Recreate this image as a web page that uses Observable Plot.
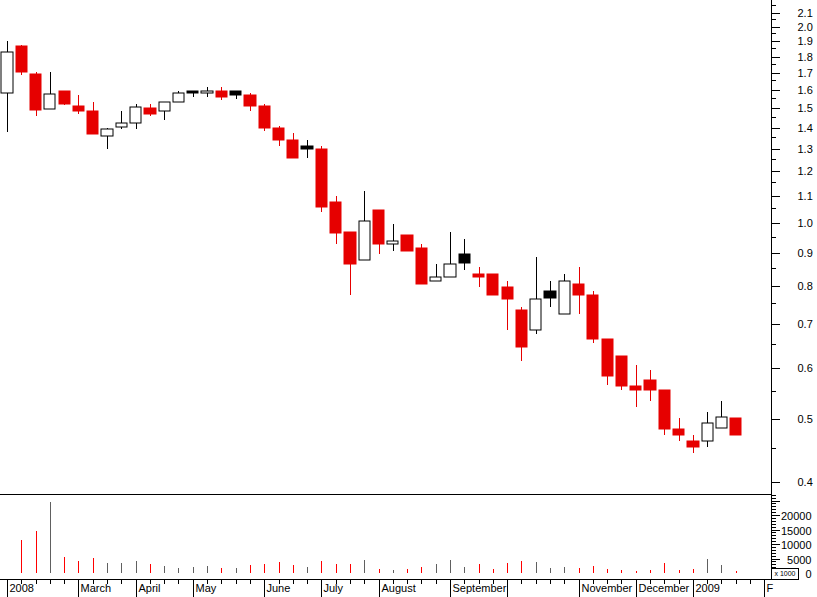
<!DOCTYPE html>
<html>
<head>
<meta charset="utf-8">
<script src="https://cdn.jsdelivr.net/npm/d3@7"></script>
<script src="https://cdn.jsdelivr.net/npm/@observablehq/plot@0.6"></script>
<style>
  html, body { margin: 0; padding: 0; background: #fff; }
  #chart { position: relative; width: 817px; height: 597px; overflow: hidden;
           font-family: "Liberation Sans", Arial, sans-serif; }
  #chart svg { position: absolute; left: 0; }
  #unit { position: absolute; left: 771px; top: 568px; width: 26px; height: 10px;
          border: 1px solid #000; font-size: 7px; line-height: 10px; text-align: center;
          color: #000; background: #fff; white-space: nowrap; }
</style>
</head>
<body>
<div id="chart"></div>
<script>
// ---- data (weekly bars, week ending Friday) ----
const weeks = [
  "2008-02-01","2008-02-08","2008-02-15","2008-02-22","2008-02-29",
  "2008-03-07","2008-03-14","2008-03-21","2008-03-28",
  "2008-04-04","2008-04-11","2008-04-18","2008-04-25",
  "2008-05-02","2008-05-09","2008-05-16","2008-05-23","2008-05-30",
  "2008-06-06","2008-06-13","2008-06-20","2008-06-27",
  "2008-07-04","2008-07-11","2008-07-18","2008-07-25",
  "2008-08-01","2008-08-08","2008-08-15","2008-08-22","2008-08-29",
  "2008-09-05","2008-09-12","2008-09-19","2008-09-26",
  "2008-10-03","2008-10-10","2008-10-17","2008-10-24","2008-10-31",
  "2008-11-07","2008-11-14","2008-11-21","2008-11-28",
  "2008-12-05","2008-12-12","2008-12-19","2008-12-26",
  "2009-01-02","2009-01-09","2009-01-16","2009-01-23"
];
const open = [
  1.577,1.862,1.687,1.489,1.588,
  1.506,1.480,1.353,1.397,
  1.417,1.496,1.478,1.528,
  1.588,1.576,1.588,1.588,1.566,
  1.506,1.394,1.336,1.308,
  1.294,1.073,0.965,0.873,
  1.043,0.924,0.955,0.912,0.811,
  0.823,0.893,0.832,0.832,
  0.795,0.733,0.682,0.784,0.722,
  0.803,0.773,0.661,0.623,
  0.560,0.572,0.552,0.482,
  0.461,0.462,0.483,0.500
];
const high = [
  1.895,1.868,1.697,1.697,1.588,
  1.566,1.528,1.392,1.480,
  1.517,1.517,1.528,1.588,
  1.588,1.611,1.611,1.588,1.577,
  1.517,1.404,1.371,1.336,
  1.308,1.096,0.965,1.116,
  1.043,0.993,0.955,0.925,0.862,
  0.965,0.942,0.853,0.832,
  0.812,0.740,0.884,0.812,0.832,
  0.853,0.784,0.661,0.623,
  0.604,0.593,0.552,0.500,
  0.471,0.511,0.532,0.500
];
const low = [
  1.376,1.682,1.456,1.489,1.513,
  1.466,1.366,1.296,1.387,
  1.387,1.456,1.435,1.528,
  1.557,1.557,1.540,1.546,1.481,
  1.380,1.308,1.254,1.254,
  1.037,0.925,0.773,0.873,
  0.894,0.904,0.904,0.804,0.811,
  0.823,0.845,0.796,0.774,
  0.684,0.613,0.674,0.742,0.722,
  0.723,0.653,0.562,0.552,
  0.521,0.532,0.471,0.461,
  0.443,0.452,0.483,0.472
];
const close = [
  1.821,1.699,1.486,1.570,1.518,
  1.481,1.366,1.387,1.417,
  1.499,1.466,1.528,1.577,
  1.579,1.586,1.557,1.568,1.506,
  1.395,1.336,1.254,1.296,
  1.056,0.963,0.863,1.002,
  0.926,0.934,0.904,0.804,0.823,
  0.863,0.864,0.824,0.774,
  0.763,0.644,0.763,0.764,0.812,
  0.774,0.662,0.581,0.560,
  0.553,0.552,0.482,0.471,
  0.452,0.491,0.502,0.472
];
// volume in thousands
const volume = [
  null,11450,14500,24500,5670,
  4300,5330,3290,3290,
  4300,2950,2270,1590,
  1930,2270,1590,1590,2610,
  2950,3630,2610,1930,
  3970,2950,2950,4650,
  1250,910,1250,1930,2950,
  4650,1930,2950,1250,
  3290,3970,3630,1590,1930,
  1590,2270,1250,910,
  570,910,3290,910,
  1250,5000,2610,570
];

// ---- axis tick values / labels ----
const extraWeeks = ["2009-01-30","2009-02-06"];
const monthTicks = ["2008-02-01","2008-03-07","2008-04-04","2008-05-02","2008-06-06","2008-07-04",
  "2008-08-01","2008-09-05","2008-10-03","2008-11-07","2008-12-05","2009-01-02","2009-02-06"];
const monthLabels = ["2008","March","April","May","June","July","August","September","",
  "November","December","2009","F"];
const priceTicks = [0.4,0.5,0.6,0.7,0.8,0.9,1.0,1.1,1.2,1.3,1.4,1.5,1.6,1.7,1.8,1.9,2.0,2.1];
const priceMinorTicks = [0.45,0.55,0.65,0.75,0.85,0.95,1.05,1.15,1.25,1.35,1.45,1.55,1.65,1.75,1.85,1.95,2.05,2.15];
const volumeTicks = [0,5000,10000,15000,20000,25000];
const volumeLabels = [0,5000,10000,15000,20000];
const volumeMinorTicks = d3.range(-2000, 27001, 1000);

// ---- build ----
const parse = d3.utcParse("%Y-%m-%d");
const RED = "#e60000";
const data = weeks.map((w, i) => ({
  date: parse(w), open: open[i], high: high[i], low: low[i], close: close[i], volume: volume[i]
}));
data.forEach((d, i) => {
  const prev = i > 0 ? data[i - 1].close : d.open;
  d.down = d.close < prev;
  d.filled = d.close < d.open;
  d.line = d.down ? RED : "#000";
  d.fill = d.down ? RED : (d.filled ? "#000" : "#fff");
  d.x1 = new Date(+d.date - 2.75 * 864e5);
  d.x2 = new Date(+d.date + 2.75 * 864e5);
});

const xDomain = [new Date(Date.UTC(2008, 0, 28, 13, 40)), new Date(Date.UTC(2009, 1, 9, 6, 14))];
const style = { fontFamily: "'Liberation Sans', Arial, sans-serif", fontSize: "11px", color: "#000", background: "transparent", overflow: "visible" };

const main = Plot.plot({
  width: 817, height: 494,
  marginLeft: 0, marginRight: 46, marginTop: 0, marginBottom: 0,
  style,
  x: { type: "utc", domain: xDomain, axis: null, round: true },
  y: { type: "log", domain: [0.38264, 2.1907], label: null, round: true },
  marks: [
    Plot.ruleX([xDomain[1]], { stroke: "#000" }),
    Plot.axisY({ ticks: priceMinorTicks, anchor: "right", tickSize: 4, tickFormat: () => "", stroke: "#000" }),
    Plot.axisY({ ticks: priceTicks, anchor: "right", tickSize: 8, tickPadding: 18, dy: 1,
                 tickFormat: d3.format(".1f"), stroke: "#000", fill: "#000", fontSize: 11, label: null }),
    Plot.ruleX(data, { x: "date", y1: "low", y2: "high", stroke: "line", strokeWidth: 1 }),
    Plot.rect(data, { x1: "x1", x2: "x2", y1: "open", y2: "close", fill: "fill", stroke: "line",
                      strokeWidth: 1 })
  ]
});

const volData = data.filter(d => d.volume != null);
const vol = Plot.plot({
  width: 817, height: 103,
  marginLeft: 0, marginRight: 46, marginTop: 0, marginBottom: 18,
  style,
  x: { type: "utc", domain: xDomain, label: null, round: true },
  y: { domain: [-2070, 27255], label: null, round: true },
  marks: [
    Plot.ruleY([27255], { stroke: "#000" }),
    Plot.ruleY([-2070], { stroke: "#000" }),
    Plot.ruleX([xDomain[1]], { stroke: "#000" }),
    Plot.ruleX(volData, { x: "date", y1: 0, y2: "volume",
                          stroke: d => d.down ? "#ff0000" : "#606060", strokeWidth: 1 }),
    Plot.axisY({ ticks: volumeMinorTicks, anchor: "right", tickSize: 4, tickFormat: () => "", stroke: "#000" }),
    Plot.axisY({ ticks: volumeTicks, anchor: "right", tickSize: 8, tickFormat: () => "", stroke: "#000" }),
    Plot.text(volumeLabels, { y: d => d, text: d => String(d), frameAnchor: "right", dx: 40, dy: 1,
                              textAnchor: "end", fill: "#000", fontSize: 11 }),
    Plot.axisX({ ticks: weeks.concat(extraWeeks).map(parse), anchor: "bottom", tickSize: 5,
                 tickFormat: () => "", stroke: "#000" }),
    Plot.axisX({ ticks: monthTicks.map(parse), anchor: "bottom", tickSize: 18,
                 tickFormat: () => "", stroke: "#000" }),
    Plot.text(monthTicks.map(parse), { x: d => d, text: (d, i) => monthLabels[i], frameAnchor: "bottom",
                                       dy: 12, dx: 2, textAnchor: "start", fill: "#000", fontSize: 11 })
  ]
});

const chart = document.getElementById("chart");
main.style.top = "0px";
vol.style.top = "494px";
chart.appendChild(main);
chart.appendChild(vol);
const unit = document.createElement("div");
unit.id = "unit";
unit.textContent = "x 1000";
chart.appendChild(unit);
</script>
</body>
</html>
